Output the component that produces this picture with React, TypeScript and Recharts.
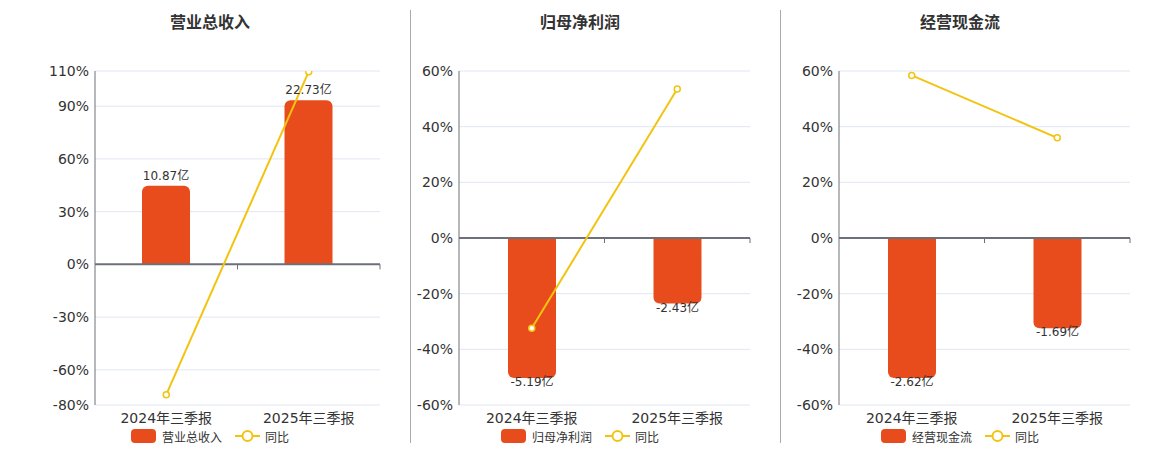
import React from "react";
import {
  ComposedChart,
  Bar,
  Line,
  XAxis,
  YAxis,
  CartesianGrid,
  ReferenceLine,
  LabelList,
} from "recharts";

const categories = ["2024年三季报", "2025年三季报"];

// amounts in 亿, yoy in %
const revenue = [10.87, 22.73];
const revenueYoy = [-74.1, 109.6];
const netProfit = [-5.19, -2.43];
const netProfitYoy = [-32.4, 53.5];
const cashFlow = [-2.62, -1.69];
const cashFlowYoy = [58.4, 36.0];

const revenueTicks = [-80, -60, -30, 0, 30, 60, 90, 110];
const smallTicks = [-60, -40, -20, 0, 20, 40, 60];

const BAR = "#E84C1D";
const LINE = "#F2C40F";
const AXIS = "#6E7079";
const FONT = '"DejaVu Sans", "Noto Sans CJK SC", sans-serif';

const panels = [
  { title: "营业总收入", name: "营业总收入", values: revenue, yoy: revenueYoy, ticks: revenueTicks, peak: 93.4, left: 0, width: 410, marginLeft: 50, center: 210 },
  { title: "归母净利润", name: "归母净利润", values: netProfit, yoy: netProfitYoy, ticks: smallTicks, peak: 50.3, left: 410, width: 370, marginLeft: 4, center: 580 },
  { title: "经营现金流", name: "经营现金流", values: cashFlow, yoy: cashFlowYoy, ticks: smallTicks, peak: 50.3, left: 780, width: 380, marginLeft: 14, center: 960 },
];

const renderLabel = (props: any) => {
  const { x, y, width, height, value } = props;
  const top = Math.min(y, y + height);
  const bottom = Math.max(y, y + height);
  const ty = value >= 0 ? top - 6 : bottom + 8;
  return (
    <text x={x + width / 2} y={ty} textAnchor="middle" fontSize={12} fill="#333" fontFamily={FONT}>
      {`${value}亿`}
    </text>
  );
};

const ZeroAxis = (props: any) => {
  const { x1, y1, x2, y2 } = props;
  const step = (x2 - x1) / categories.length;
  return (
    <g>
      <line x1={x1} y1={y1} x2={x2} y2={y2} stroke={AXIS} strokeWidth={2} />
      {categories.map((_, i) => (
        <line key={i} x1={x1 + step * (i + 1)} y1={y1} x2={x1 + step * (i + 1)} y2={y1 + 5} stroke={AXIS} strokeWidth={1} />
      ))}
    </g>
  );
};

function Panel({ p }: { p: (typeof panels)[number] }) {
  const data = categories.map((name, i) => ({ name, amount: p.values[i], yoy: p.yoy[i] }));
  const lo = p.ticks[0];
  const hi = p.ticks[p.ticks.length - 1];
  const k = Math.max(...p.values.map(Math.abs)) / p.peak;

  return (
    <div style={{ position: "absolute", left: p.left, top: 0, width: p.width, height: 450 }}>
      <div
        style={{
          position: "absolute",
          left: p.center - p.left - 100,
          width: 200,
          top: 12,
          lineHeight: "21px",
          textAlign: "center",
          fontSize: 16,
          fontWeight: "bold",
          color: "#333",
          fontFamily: FONT,
        }}
      >
        {p.title}
      </div>
      <ComposedChart
        width={p.width}
        height={450}
        data={data}
        margin={{ top: 71, right: 30, bottom: 15, left: p.marginLeft }}
        style={{ fontFamily: FONT }}
      >
        <CartesianGrid yAxisId="pct" vertical={false} stroke="#E0E6F1" />
        <XAxis
          dataKey="name"
          axisLine={false}
          tickLine={false}
          height={30}
          tick={{ fontSize: 14, fill: "#333" }}
        />
        <YAxis
          yAxisId="pct"
          orientation="left"
          width={45}
          domain={[lo, hi]}
          ticks={p.ticks}
          allowDataOverflow
          interval={0}
          tickFormatter={(v) => `${v}%`}
          axisLine={{ stroke: AXIS }}
          tickLine={false}
          tickSize={4}
          tickMargin={2}
          tick={{ fontSize: 14, fill: "#333" }}
        />
        <YAxis yAxisId="amt" orientation="right" hide domain={[lo * k, hi * k]} allowDataOverflow />
        <Bar yAxisId="amt" dataKey="amount" name={p.name} fill={BAR} barSize={48} radius={[6, 6, 0, 0]} isAnimationActive={false}>
          <LabelList dataKey="amount" content={renderLabel} />
        </Bar>
        <ReferenceLine yAxisId="pct" y={0} shape={ZeroAxis} />
        <Line
          yAxisId="pct"
          dataKey="yoy"
          name="同比"
          type="linear"
          stroke={LINE}
          strokeWidth={2}
          dot={{ r: 3, fill: "#fff", stroke: LINE, strokeWidth: 1.5 }}
          isAnimationActive={false}
        />
      </ComposedChart>
      <div
        style={{
          position: "absolute",
          left: p.center - p.left - 120,
          width: 240,
          top: 428,
          height: 16,
          display: "flex",
          justifyContent: "center",
          alignItems: "center",
          fontSize: 12,
          color: "#333",
          fontFamily: FONT,
        }}
      >
        <span style={{ width: 25, height: 14, background: BAR, borderRadius: 4, marginRight: 6 }} />
        <span>{p.name}</span>
        <svg width={25} height={14} style={{ marginLeft: 13, marginRight: 5 }}>
          <line x1={0} y1={7} x2={25} y2={7} stroke={LINE} strokeWidth={2} />
          <circle cx={12.5} cy={7} r={5} fill="#fff" stroke={LINE} strokeWidth={2} />
        </svg>
        <span>同比</span>
      </div>
    </div>
  );
}

export default function App() {
  return (
    <div style={{ position: "absolute", left: 0, top: 0, width: 1160, height: 450, background: "#fff" }}>
      {panels.map((p) => (
        <Panel key={p.title} p={p} />
      ))}
      <div style={{ position: "absolute", left: 410, top: 10, width: 1, height: 433, background: "#aaa" }} />
      <div style={{ position: "absolute", left: 780, top: 10, width: 1, height: 433, background: "#aaa" }} />
    </div>
  );
}
